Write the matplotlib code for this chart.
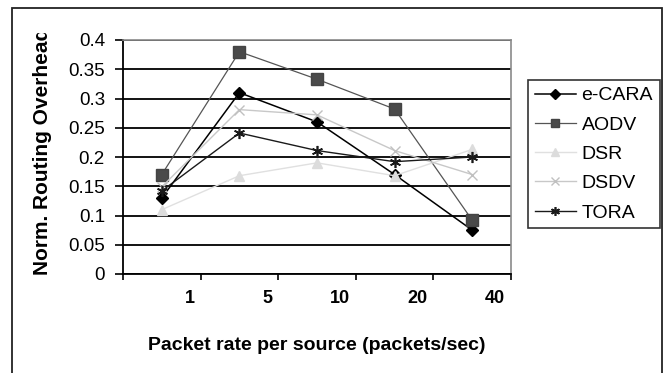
import matplotlib
matplotlib.use("Agg")
import matplotlib.pyplot as plt
from matplotlib.patches import Rectangle
from matplotlib.transforms import Bbox

plt.rcParams['font.family'] = ['Liberation Sans', 'DejaVu Sans']

# Packet rate categories (packets/sec) and normalized routing overhead per protocol
rates = ["1", "5", "10", "20", "40"]
ecara = [0.13, 0.31, 0.26, 0.17, 0.075]
aodv = [0.17, 0.38, 0.333, 0.282, 0.092]
dsr = [0.11, 0.168, 0.19, 0.168, 0.213]
dsdv = [0.149, 0.281, 0.272, 0.211, 0.17]
tora = [0.142, 0.241, 0.211, 0.192, 0.2]

yticks = [0, 0.05, 0.1, 0.15, 0.2, 0.25, 0.3, 0.35, 0.4]
yticklabels = ["0", "0.05", "0.1", "0.15", "0.2", "0.25", "0.3", "0.35", "0.4"]

W, H = 664, 373
fig = plt.figure(figsize=(W / 100, H / 100), dpi=100)
ax = fig.add_axes([123 / W, (H - 274) / H, (511 - 123) / W, (274 - 40) / H])

x = list(range(len(rates)))
series = [
    ("e-CARA", ecara, dict(color="black", marker="D", ms=6, lw=1.1, mec="black", mfc="black")),
    ("AODV", aodv, dict(color="#555555", marker="s", ms=8, lw=0.9, mec="#444444", mfc="#4a4a4a")),
    ("DSR", dsr, dict(color="#e0e0e0", marker="^", ms=7, lw=1.0, mec="#dcdcdc", mfc="#dcdcdc")),
    ("DSDV", dsdv, dict(color="#c8c8c8", marker="x", ms=7, lw=1.0, mec="#c0c0c0", mew=1.0)),
    ("TORA", tora, dict(color="#1a1a1a", marker=(6, 2, 0), ms=8, lw=1.0, mec="#1a1a1a", mew=1.2)),
]
for name, vals, style in series:
    ax.plot(x, vals, label=name, zorder=3, **style)

ax.set_xlim(-0.5, len(rates) - 0.5)
ax.set_ylim(0, 0.4)
ax.set_yticks(yticks)
ax.set_yticklabels(yticklabels, fontsize=13.5)
ax.yaxis.grid(True, color="black", lw=1.3)
ax.set_axisbelow(True)

# category boundary ticks, labels drawn just left of each boundary
ax.set_xticks([i - 0.5 for i in range(len(rates) + 1)])
ax.set_xticklabels([])
ax.tick_params(axis="x", direction="out", length=4.5, width=1.2, color="black")
ax.tick_params(axis="y", direction="out", length=6, width=1.2, color="black", pad=7)
for i, lab in enumerate(rates):
    ax.text(i + 0.42, -0.027, lab, ha="right", va="top", fontsize=13,
            fontweight="bold", transform=ax.transData)

for s in ("left", "bottom"):
    ax.spines[s].set_color("black")
    ax.spines[s].set_linewidth(1.3)
for s in ("top", "right"):
    ax.spines[s].set_color("#8a8a8a")
    ax.spines[s].set_linewidth(1.2)

ax.text(0.5, -0.305, "Packet rate per source (packets/sec)", transform=ax.transAxes,
        ha="center", va="center", fontsize=14, fontweight="bold")

# vertical axis title, clipped by the chart frame at the top
ylab = fig.text(43 / W, (H - 275) / H, "Norm. Routing Overhead", rotation=90,
                ha="center", va="bottom", fontsize=15, fontweight="bold")
ylab.set_clip_box(Bbox.from_extents(0, 0, W, H - 33))

leg = fig.legend(loc="upper left", bbox_to_anchor=(528 / W, 1 - 80 / H), fontsize=14,
                 frameon=True, fancybox=False, edgecolor="black", handlelength=2.1,
                 handletextpad=0.3, labelspacing=0.6, borderpad=0.35, borderaxespad=0,
                 markerscale=0.8)
leg.get_frame().set_linewidth(1.2)

fig.add_artist(Rectangle((12 / W, -0.1), (662 - 12) / W, (H - 8) / H + 0.1,
                         transform=fig.transFigure, fill=False, ec="#222222", lw=1.3))

fig.savefig("out.png", dpi=100)
